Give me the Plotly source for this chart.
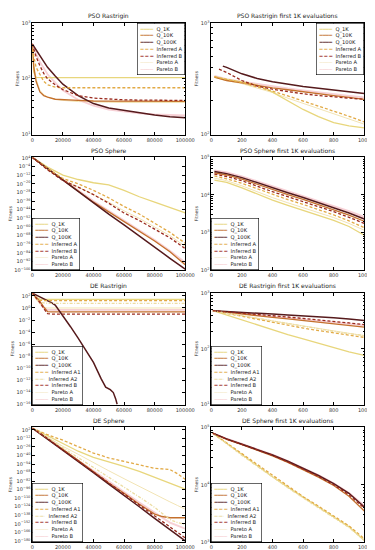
import plotly.graph_objects as go

# ---------------- data ----------------
# PSO Rastrigin (full run)
pso_ras_x = [0, 1000, 2500, 5000, 7500, 10000, 15000, 20000, 30000, 40000, 50000, 60000, 70000, 80000, 90000, 100000]
pso_ras_q1k = [420, 130, 106, 105, 105, 105, 104.5, 104.5, 104.5, 104.5, 104.5, 104.5, 104.5, 104.5, 104.5, 104.5]
pso_ras_q10k = [420, 160, 90, 58, 50, 47, 43, 42, 41, 40, 40, 40, 39.5, 39.5, 39.5, 39.5]
pso_ras_q100k = [420, 380, 320, 250, 195, 160, 112, 80, 50, 36, 30, 27, 24.5, 22.5, 21, 20]
pso_ras_infA = [420, 250, 160, 120, 90, 78, 71, 69, 69, 69, 69, 69, 69, 69, 69, 69]
pso_ras_infB = [420, 330, 250, 170, 125, 100, 78, 64, 50, 45, 43, 42, 41.5, 41, 41, 41]
pso_ras_parA = [420, 180, 100, 62, 52, 47, 43, 41, 39, 38, 38, 37.5, 37.5, 37.5, 37.5, 37.5]
pso_ras_parB = [420, 350, 280, 200, 150, 120, 85, 62, 42, 33, 28, 26, 24, 23, 22.5, 22]

# PSO Rastrigin first 1K evaluations
pso_ras1k_x = [20, 50, 100, 200, 300, 400, 500, 600, 700, 800, 900, 1000]
pso_ras1k_q1k = [330, 322, 312, 296, 278, 240, 200, 168, 145, 128, 120, 115]
pso_ras1k_q10k = [327, 318, 305, 290, 275, 262, 252, 241, 232, 223, 215, 207]
pso_ras1k_q100k_x = [75, 100, 200, 300, 400, 500, 600, 700, 800, 900, 1000]
pso_ras1k_q100k = [410, 400, 350, 318, 298, 283, 270, 260, 250, 241, 233]
pso_ras1k_infA = [330, 322, 312, 292, 268, 245, 222, 200, 182, 163, 146, 130]
pso_ras1k_infB_x = [50, 100, 200, 300, 400, 500, 600, 700, 800, 900, 1000]
pso_ras1k_infB = [385, 360, 305, 272, 255, 242, 232, 224, 217, 212, 207]
pso_ras1k_parA = [325, 316, 305, 286, 262, 238, 212, 190, 170, 152, 137, 124]
pso_ras1k_parB = [335, 326, 314, 298, 283, 270, 259, 249, 239, 230, 222, 215]

# PSO Sphere (full run)
pso_sph_x = [0, 10000, 20000, 30000, 40000, 50000, 60000, 70000, 80000, 90000, 100000]
pso_sph_q1k = [4e4, 3e-5, 1e-12, 1e-16, 1e-19, 1e-21, 1e-26, 1e-32, 1e-37, 1e-42, 1e-47]
pso_sph_q10k = [4e4, 1e-6, 1e-16, 3e-27, 1e-37, 1e-46, 1e-55, 1e-64, 1e-73, 1e-83, 1e-95]
pso_sph_q100k = [4e4, 1e-6, 3e-17, 1e-27, 3e-38, 1e-48, 1e-58, 3e-69, 1e-79, 1e-89, 1e-99]
pso_sph_infA = [4e4, 1e-6, 1e-15, 1e-20, 1e-26, 1e-33, 1e-41, 1e-48, 3e-57, 1e-65, 1e-75]
pso_sph_infB = [4e4, 1e-7, 1e-17, 1e-23, 1e-30, 1e-38, 1e-47, 1e-54, 1e-62, 1e-70, 1e-80]
pso_sph_parA = [4e4, 1e-7, 1e-16, 1e-23, 1e-30, 1e-37, 1e-45, 1e-52, 1e-60, 1e-68, 1e-78]
pso_sph_parB = [4e4, 1e-6, 1e-16, 1e-26, 1e-36, 1e-45, 1e-54, 1e-63, 1e-72, 1e-82, 1e-93]

# PSO Sphere first 1K evaluations
pso_sph1k_x = [20, 100, 200, 300, 400, 500, 600, 700, 800, 900, 1000]
pso_sph1k_q1k = [25000, 21500, 15500, 10500, 7300, 5300, 3900, 2900, 2100, 1450, 850]
pso_sph1k_q10k = [39000, 34000, 26500, 19000, 13800, 10200, 7600, 5600, 4100, 2900, 2000]
pso_sph1k_q100k = [42000, 37000, 29000, 21000, 15500, 11500, 8600, 6300, 4600, 3300, 2300]
pso_sph1k_infA = [32000, 27000, 20500, 14500, 10200, 7500, 5600, 4100, 2950, 2050, 1350]
pso_sph1k_infB = [36000, 31000, 24000, 17000, 12200, 9000, 6700, 5000, 3600, 2550, 1750]
pso_sph1k_parA = [28000, 24000, 17500, 12000, 8500, 6200, 4600, 3400, 2500, 1750, 1150]
pso_sph1k_parB = [45000, 40000, 31500, 23000, 16800, 12500, 9300, 6900, 5100, 3700, 2600]

# DE Rastrigin (full run)
de_ras_x = [0, 2500, 5000, 7500, 10000, 12500, 15000, 20000, 25000, 30000, 35000, 40000, 45000, 50000, 52500, 55000, 60000, 80000, 100000]
de_ras_q1k = [290, 60, 30, 27, 27, 27, 27, 27, 27, 27, 27, 27, 27, 27, 27, 27, 27, 27, 27]
de_ras_q10k = [290, 60, 12, 1.5, 0.25, 0.22, 0.22, 0.22, 0.22, 0.22, 0.22, 0.22, 0.22, 0.22, 0.22, 0.22, 0.22, 0.22, 0.22]
de_ras_q100k_x = [0, 2500, 5000, 7500, 10000, 12500, 15000, 17500, 20000, 25000, 30000, 35000, 40000, 45000, 48000, 51000, 53000, 54500, 55500]
de_ras_q100k = [290, 150, 70, 35, 18, 8, 3, 0.4, 0.06, 8e-4, 1e-5, 1e-7, 1e-9, 2e-12, 8e-14, 3e-14, 1e-14, 1e-15, 1.2e-16]
de_ras_infA1 = [290, 40, 18, 16, 16, 16, 16, 16, 16, 16, 16, 16, 16, 16, 16, 16, 16, 16, 16]
de_ras_infA2 = [290, 30, 8, 6, 6, 6, 6, 6, 6, 6, 6, 6, 6, 6, 6, 6, 6, 6, 6]
de_ras_infB = [290, 50, 8, 0.8, 0.12, 0.1, 0.1, 0.1, 0.1, 0.1, 0.1, 0.1, 0.1, 0.1, 0.1, 0.1, 0.1, 0.1, 0.1]
de_ras_parA = [290, 45, 4, 1.2, 1.0, 1.0, 1.0, 1.0, 1.0, 1.0, 1.0, 1.0, 1.0, 1.0, 1.0, 1.0, 1.0, 1.0, 1.0]
de_ras_parB = [290, 55, 9, 1.0, 0.5, 0.5, 0.5, 0.5, 0.5, 0.5, 0.5, 0.5, 0.5, 0.5, 0.5, 0.5, 0.5, 0.5, 0.5]

# DE Rastrigin first 1K evaluations
de_ras1k_x = [10, 100, 200, 300, 400, 500, 600, 700, 800, 900, 1000]
de_ras1k_q1k = [480, 400, 330, 270, 220, 180, 150, 125, 105, 88, 76]
de_ras1k_q10k = [480, 448, 418, 390, 365, 342, 320, 300, 280, 262, 245]
de_ras1k_q100k = [480, 462, 446, 432, 418, 404, 390, 375, 358, 340, 320]
de_ras1k_infA1 = [480, 430, 380, 335, 295, 262, 235, 212, 192, 175, 160]
de_ras1k_infA2 = [480, 435, 390, 348, 310, 278, 250, 226, 205, 187, 172]
de_ras1k_infB = [480, 455, 432, 410, 390, 370, 350, 330, 310, 290, 270]
de_ras1k_parA = [480, 440, 395, 352, 315, 283, 255, 230, 208, 189, 172]
de_ras1k_parB = [480, 455, 428, 402, 378, 356, 335, 315, 296, 278, 262]

# DE Sphere (full run)
de_sph_x = [0, 10000, 20000, 30000, 40000, 50000, 60000, 70000, 80000, 85000, 90000, 95000, 100000]
de_sph_q1k = [1e5, 1e-8, 1e-20, 1e-33, 1e-43, 1e-50, 1e-58, 1e-66, 1e-76, 1e-81, 1e-86, 1e-90, 1e-95]
de_sph_q10k = [1e5, 1e-12, 1e-30, 1e-48, 1e-67, 1e-85, 1e-102, 1e-120, 1e-136, 1e-140, 1e-142, 1e-142, 1e-142]
de_sph_q100k = [1e5, 1e-13, 1e-32, 1e-50, 1e-68, 1e-87, 1e-105, 1e-124, 1e-143, 1e-152, 1e-161, 1e-170, 1e-180]
de_sph_infA1 = [1e5, 1e-6, 1e-15, 1e-25, 1e-36, 1e-44, 1e-50, 1e-55, 1e-61, 1e-62, 1e-63, 1e-70, 1e-79]
de_sph_infA2 = [1e5, 1e-11, 1e-28, 1e-44, 1e-60, 1e-76, 1e-92, 1e-108, 1e-125, 1e-135, 1e-145, 1e-150, 1e-153]
de_sph_infB = [1e5, 1e-12, 1e-31, 1e-49, 1e-68, 1e-86, 1e-104, 1e-122, 1e-140, 1e-149, 1e-158, 1e-166, 1e-175]
de_sph_parA = [1e5, 1e-10, 1e-25, 1e-38, 1e-52, 1e-65, 1e-78, 1e-91, 1e-104, 1e-110, 1e-116, 1e-122, 1e-128]
de_sph_parB = [1e5, 1e-13, 1e-30, 1e-48, 1e-65, 1e-83, 1e-100, 1e-117, 1e-134, 1e-142, 1e-150, 1e-155, 1e-160]

# DE Sphere first 1K evaluations
de_sph1k_x = [10, 100, 200, 300, 400, 500, 600, 700, 800, 900, 1000]
de_sph1k_q1k = [79000, 52500, 33100, 21400, 13800, 9100, 6000, 4100, 2750, 1860, 1070]
de_sph1k_q10k = [79000, 62000, 50000, 40500, 32000, 24500, 18500, 13600, 9700, 6300, 3500]
de_sph1k_q100k = [79000, 63000, 51000, 41700, 33100, 25700, 19500, 14500, 10500, 7100, 4100]
de_sph1k_infA1 = [79000, 53500, 34000, 22000, 14300, 9400, 6200, 4250, 2850, 1920, 1150]
de_sph1k_infA2 = [79000, 51500, 32500, 21000, 13500, 8900, 5900, 4000, 2700, 1800, 1080]
de_sph1k_infB = [79000, 62500, 50500, 41000, 32500, 25000, 19000, 14000, 10000, 6700, 3900]
de_sph1k_parA = [79000, 52000, 32800, 21200, 13700, 9000, 5950, 4050, 2720, 1830, 1100]
de_sph1k_parB = [79000, 63500, 51500, 42000, 33500, 26000, 19700, 14700, 10600, 7200, 4300]

titles = ["PSO Rastrigin", "PSO Rastrigin first 1K evaluations",
          "PSO Sphere", "PSO Sphere first 1K evaluations",
          "DE Rastrigin", "DE Rastrigin first 1K evaluations",
          "DE Sphere", "DE Sphere first 1K evaluations"]

x_full_ticks = [0, 20000, 40000, 60000, 80000, 100000]
x_1k_ticks = [0, 200, 400, 600, 800, 1000]

# y tick exponents per panel
y_exps = [
    [1, 2, 3], [2, 3],
    list(range(4, -101, -8)), [2, 3, 4, 5],
    list(range(2, -17, -2)), [1, 2, 3],
    list(range(2, -181, -14)), [3, 4, 5],
]
y_ranges = [[1, 3], [2, 3], [-100, 4.5], [2, 5], [-16, 2.5], [1, 3], [-182, 6], [3, 5]]

# ---------------- styles ----------------
STY = {
    "Q_1K": dict(color="#e8d67c", width=1.3, dash="solid"),
    "Q_10K": dict(color="#c4702c", width=1.3, dash="solid"),
    "Q_100K": dict(color="#561a1c", width=1.5, dash="solid"),
    "Inferred A": dict(color="#e2aa46", width=1.3, dash="3px,2px"),
    "Inferred A1": dict(color="#e2aa46", width=1.3, dash="3px,2px"),
    "Inferred A2": dict(color="#ecdca2", width=1.3, dash="3px,1.5px,1px,1.5px"),
    "Inferred B": dict(color="#9a2a1e", width=1.3, dash="3px,2px"),
    "Pareto A": dict(color="#f2e4b4", width=1.0, dash="solid"),
    "Pareto B": dict(color="#f4bcc4", width=1.8, dash="solid"),
}

panels = [
    [("Pareto A", pso_ras_x, pso_ras_parA), ("Pareto B", pso_ras_x, pso_ras_parB),
     ("Q_1K", pso_ras_x, pso_ras_q1k), ("Q_10K", pso_ras_x, pso_ras_q10k), ("Q_100K", pso_ras_x, pso_ras_q100k),
     ("Inferred A", pso_ras_x, pso_ras_infA), ("Inferred B", pso_ras_x, pso_ras_infB)],
    [("Pareto A", pso_ras1k_x, pso_ras1k_parA), ("Pareto B", pso_ras1k_x, pso_ras1k_parB),
     ("Q_1K", pso_ras1k_x, pso_ras1k_q1k), ("Q_10K", pso_ras1k_x, pso_ras1k_q10k),
     ("Q_100K", pso_ras1k_q100k_x, pso_ras1k_q100k),
     ("Inferred A", pso_ras1k_x, pso_ras1k_infA), ("Inferred B", pso_ras1k_infB_x, pso_ras1k_infB)],
    [("Pareto A", pso_sph_x, pso_sph_parA), ("Pareto B", pso_sph_x, pso_sph_parB),
     ("Q_1K", pso_sph_x, pso_sph_q1k), ("Q_10K", pso_sph_x, pso_sph_q10k), ("Q_100K", pso_sph_x, pso_sph_q100k),
     ("Inferred A", pso_sph_x, pso_sph_infA), ("Inferred B", pso_sph_x, pso_sph_infB)],
    [("Pareto A", pso_sph1k_x, pso_sph1k_parA), ("Pareto B", pso_sph1k_x, pso_sph1k_parB),
     ("Q_1K", pso_sph1k_x, pso_sph1k_q1k), ("Q_10K", pso_sph1k_x, pso_sph1k_q10k), ("Q_100K", pso_sph1k_x, pso_sph1k_q100k),
     ("Inferred A", pso_sph1k_x, pso_sph1k_infA), ("Inferred B", pso_sph1k_x, pso_sph1k_infB)],
    [("Pareto A", de_ras_x, de_ras_parA), ("Pareto B", de_ras_x, de_ras_parB),
     ("Q_1K", de_ras_x, de_ras_q1k), ("Q_10K", de_ras_x, de_ras_q10k), ("Q_100K", de_ras_q100k_x, de_ras_q100k),
     ("Inferred A1", de_ras_x, de_ras_infA1), ("Inferred A2", de_ras_x, de_ras_infA2), ("Inferred B", de_ras_x, de_ras_infB)],
    [("Pareto A", de_ras1k_x, de_ras1k_parA), ("Pareto B", de_ras1k_x, de_ras1k_parB),
     ("Q_1K", de_ras1k_x, de_ras1k_q1k), ("Q_10K", de_ras1k_x, de_ras1k_q10k), ("Q_100K", de_ras1k_x, de_ras1k_q100k),
     ("Inferred A1", de_ras1k_x, de_ras1k_infA1), ("Inferred A2", de_ras1k_x, de_ras1k_infA2), ("Inferred B", de_ras1k_x, de_ras1k_infB)],
    [("Pareto A", de_sph_x, de_sph_parA), ("Pareto B", de_sph_x, de_sph_parB),
     ("Q_1K", de_sph_x, de_sph_q1k), ("Q_10K", de_sph_x, de_sph_q10k), ("Q_100K", de_sph_x, de_sph_q100k),
     ("Inferred A1", de_sph_x, de_sph_infA1), ("Inferred A2", de_sph_x, de_sph_infA2), ("Inferred B", de_sph_x, de_sph_infB)],
    [("Pareto A", de_sph1k_x, de_sph1k_parA), ("Pareto B", de_sph1k_x, de_sph1k_parB),
     ("Q_1K", de_sph1k_x, de_sph1k_q1k), ("Q_10K", de_sph1k_x, de_sph1k_q10k), ("Q_100K", de_sph1k_x, de_sph1k_q100k),
     ("Inferred A1", de_sph1k_x, de_sph1k_infA1), ("Inferred A2", de_sph1k_x, de_sph1k_infA2), ("Inferred B", de_sph1k_x, de_sph1k_infB)],
]

legend_order_A = ["Q_1K", "Q_10K", "Q_100K", "Inferred A", "Inferred B", "Pareto A", "Pareto B"]
legend_order_DE = ["Q_1K", "Q_10K", "Q_100K", "Inferred A1", "Inferred A2", "Inferred B", "Pareto A", "Pareto B"]

W, H = 375, 550
col_px = [(23, 181), (208, 366)]
row_px = [(12, 125), (148, 262), (285, 398), (421, 537)]

fig = go.Figure()
FONT = "DejaVu Sans"
annotations = []


def sup(k):
    return "10<sup>" + ("\u2212" if k < 0 else "") + str(abs(k)) + "</sup>"


def sample(name):
    s = STY[name]
    if s["dash"] == "solid":
        glyph = "\u2501\u2501\u2501\u2501" if name not in ("Pareto A", "Pareto B") else "\u2500\u2500\u2500\u2500"
    elif name == "Inferred A2":
        glyph = "\u2501\u00b7\u2501\u00b7"
    else:
        glyph = "\u2501 \u2501 \u2501"
    return f'<span style="color:{s["color"]}">{glyph}</span>'


layout_axes = {}
for i, series in enumerate(panels):
    idx = i + 1
    r, c = divmod(i, 2)
    xs = "" if idx == 1 else str(idx)
    for name, xv, yv in series:
        s = STY[name]
        fig.add_trace(go.Scatter(
            x=xv, y=yv, mode="lines", name=name, showlegend=False,
            line=dict(color=s["color"], width=s["width"], dash=s["dash"]),
            opacity=0.7 if name == "Pareto B" else 1.0,
            xaxis="x" + xs, yaxis="y" + xs, hoverinfo="skip"))
    x0, x1 = col_px[c]
    y0, y1 = row_px[r]
    full = (c == 0)
    axis_common = dict(showline=True, linecolor="black", linewidth=0.8, mirror="ticks",
                       ticks="inside", ticklen=3, tickwidth=0.6, tickcolor="black",
                       showgrid=False, zeroline=False,
                       tickfont=dict(size=5, color="#333333", family=FONT))
    layout_axes["xaxis" + xs] = dict(
        domain=[x0 / W, x1 / W], anchor="y" + xs,
        range=[0, 100000] if full else [0, 1000],
        tickmode="array", tickvals=x_full_ticks if full else x_1k_ticks,
        ticktext=[str(v) for v in (x_full_ticks if full else x_1k_ticks)],
        **axis_common)
    exps = y_exps[i]
    yax = dict(
        domain=[1 - y1 / H, 1 - y0 / H], anchor="x" + xs, type="log",
        range=y_ranges[i], tickmode="array",
        tickvals=[10.0 ** k for k in exps], ticktext=[sup(k) for k in exps],
        title=dict(text="Fitness", font=dict(size=4.5, color="#333333", family=FONT), standoff=2),
        **axis_common)
    if y_ranges[i][1] - y_ranges[i][0] <= 4:
        yax["minor"] = dict(ticks="inside", ticklen=1.6, tickwidth=0.5, tickcolor="black", dtick="D1")
    layout_axes["yaxis" + xs] = yax

    # title
    annotations.append(dict(text=titles[i], xref=f"x{xs} domain", yref=f"y{xs} domain",
                            x=0.5, y=1, yanchor="bottom", xanchor="center", yshift=0.5,
                            showarrow=False, font=dict(size=6, color="#222222", family=FONT)))
    # legend
    order = legend_order_A if i < 4 else legend_order_DE
    lines = [sample(n) + "  " + n for n in order]
    if r == 0:
        pos = dict(x=1, y=1, xanchor="right", yanchor="top")
    else:
        pos = dict(x=0, y=0, xanchor="left", yanchor="bottom")
    annotations.append(dict(text="<br>".join(lines), xref=f"x{xs} domain", yref=f"y{xs} domain",
                            showarrow=False, align="left", bgcolor="white",
                            bordercolor="black", borderwidth=0.6, borderpad=2,
                            font=dict(size=5.2, color="#222222", family=FONT), **pos))

fig.update_layout(
    width=W, height=H, margin=dict(l=0, r=0, t=0, b=0),
    paper_bgcolor="white", plot_bgcolor="white",
    font=dict(family=FONT), showlegend=False,
    annotations=annotations, **layout_axes)

fig.write_html("out.html")
